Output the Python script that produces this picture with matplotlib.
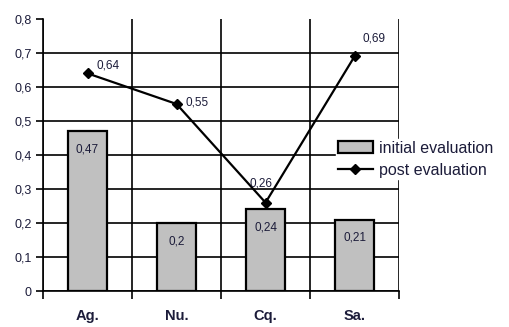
import matplotlib

matplotlib.use("Agg")
import matplotlib.pyplot as plt
import numpy as np

categories = ["Ag.", "Nu.", "Cq.", "Sa."]
initial_eval = [0.47, 0.2, 0.24, 0.21]
post_eval = [0.64, 0.55, 0.26, 0.69]
y_ticks = [0, 0.1, 0.2, 0.3, 0.4, 0.5, 0.6, 0.7, 0.8]


def comma(v):
    return f"{v:g}".replace(".", ",")


plt.rcParams["font.family"] = ["Liberation Sans", "DejaVu Sans"]
text_color = "#1c1c3a"

fig = plt.figure(figsize=(5.09, 3.27), dpi=100)
ax = fig.add_axes([0.0845, 0.110, 0.6995, 0.832])

x = np.arange(len(categories))
bars = ax.bar(x, initial_eval, width=0.43, color="#c0c0c0", edgecolor="black",
              linewidth=1.6, zorder=3, label="initial evaluation")
line, = ax.plot(x, post_eval, color="black", linewidth=1.6, marker="D", markersize=5.5,
                zorder=4, label="post evaluation")

for xi, v in zip(x, initial_eval):
    ax.annotate(comma(v), (xi, v), xytext=(0, -13), textcoords="offset points",
                ha="center", va="center", fontsize=8.5, color=text_color, zorder=5)

offsets = [(15, 6), (15, 1), (-3, 14), (14, 13)]
for xi, v, off in zip(x, post_eval, offsets):
    ax.annotate(comma(v), (xi, v), xytext=off, textcoords="offset points",
                ha="center", va="center", fontsize=8.5, color=text_color, zorder=5)

ax.set_xlim(-0.5, len(categories) - 0.5)
ax.set_ylim(0, 0.8)
ax.set_yticks(y_ticks)
ax.set_yticklabels([comma(t) for t in y_ticks], fontsize=9, color=text_color)
ax.set_xticks(x)
ax.set_xticklabels(categories, fontsize=10.5, fontweight="bold", color=text_color)
ax.set_xticks(np.arange(len(categories) + 1) - 0.5, minor=True)
ax.tick_params(axis="x", which="major", length=0, pad=13)
ax.tick_params(axis="x", which="minor", length=6, width=1.2, direction="out")
ax.tick_params(axis="y", length=5, width=1.2, direction="out", pad=3)

ax.grid(True, axis="y", color="black", linewidth=1.2, zorder=1)
ax.grid(True, axis="x", which="minor", color="black", linewidth=1.2, zorder=1)
ax.get_ygridlines()[-1].set_visible(False)
ax.set_axisbelow(True)

for side in ["top", "right"]:
    ax.spines[side].set_visible(False)
ax.spines["left"].set_linewidth(1.2)
ax.spines["bottom"].set_linewidth(1.2)

leg = fig.legend(handles=[bars, line], loc="upper left", bbox_to_anchor=(0.66, 0.575),
                 frameon=True, fontsize=11.5, handlelength=2.2, handletextpad=0.4,
                 labelspacing=0.45, borderpad=0.1, borderaxespad=0)
leg.get_frame().set_edgecolor("white")
leg.get_frame().set_facecolor("white")
leg.get_frame().set_alpha(1)
leg.set_zorder(10)
for t in leg.get_texts():
    t.set_color(text_color)

fig.savefig("out.png", dpi=100, facecolor="white")
